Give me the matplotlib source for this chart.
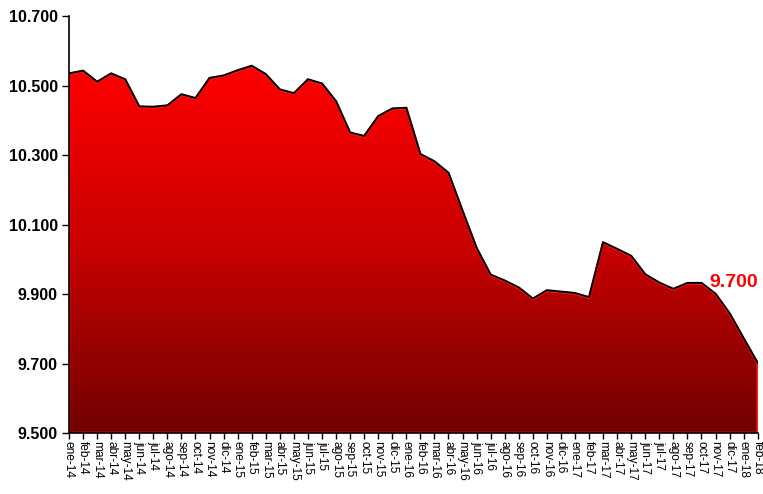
import numpy as np
import matplotlib
matplotlib.use('Agg')
import matplotlib.pyplot as plt
from matplotlib.colors import LinearSegmentedColormap
from matplotlib.patches import Polygon

# monthly series, ene-14 .. feb-18
months = ['ene', 'feb', 'mar', 'abr', 'may', 'jun', 'jul', 'ago', 'sep', 'oct', 'nov', 'dic']
labels = [m + '-' + y for y in ['14', '15', '16', '17'] for m in months] + ['ene-18', 'feb-18']
values = [10.533, 10.541, 10.509, 10.533, 10.516, 10.438, 10.437, 10.441, 10.473, 10.462,
          10.520, 10.527, 10.542, 10.555, 10.531, 10.487, 10.476, 10.516, 10.504, 10.453,
          10.363, 10.353, 10.410, 10.432, 10.434, 10.301, 10.280, 10.247, 10.138, 10.031,
          9.954, 9.937, 9.917, 9.885, 9.909, 9.905, 9.901, 9.889, 10.047, 10.028,
          10.008, 9.955, 9.931, 9.913, 9.930, 9.930, 9.899, 9.843, 9.771, 9.700]
yticks = [9.5, 9.7, 9.9, 10.1, 10.3, 10.5, 10.7]
ytick_labels = ['9.500', '9.700', '9.900', '10.100', '10.300', '10.500', '10.700']
last_label = '9.700'

plt.rcParams['font.family'] = ['Liberation Sans', 'DejaVu Sans']

fig = plt.figure(figsize=(7.63, 4.94), dpi=100)
ax = fig.add_axes([69 / 763, 1 - 433 / 494, (757.7 - 69) / 763, (433 - 16) / 494])

x = np.arange(len(values))
ymin, ymax = 9.5, 10.7

# gradient fill clipped to the area polygon
cmap = LinearSegmentedColormap.from_list('rojo', ['#700000', '#c80000', '#ff0000'])
grad = np.linspace(0, 1, 256).reshape(-1, 1)
top = max(values)
img = ax.imshow(grad, cmap=cmap, aspect='auto', origin='lower',
                extent=[0, len(values) - 1, ymin, top], zorder=1)
verts = [(0, ymin)] + list(zip(x, values)) + [(len(values) - 1, ymin)]
poly = Polygon(verts, closed=True, facecolor='none', edgecolor='#ff1a1a', lw=1.8, zorder=2)
ax.add_patch(poly)
img.set_clip_path(poly)

ax.plot(x, np.array(values) + 0.002, color='black', lw=1.4, zorder=3)

ax.text(len(values) - 2.7, 9.934, last_label, color='#ff0000', fontsize=14,
        fontweight='bold', ha='center', va='center', zorder=4)

ax.set_xlim(0, len(values) - 1)
ax.set_ylim(ymin, ymax)
ax.set_yticks(yticks)
ax.set_yticklabels(ytick_labels, fontsize=11.5, fontweight='bold')
ax.set_xticks(x)
ax.set_xticklabels(labels, rotation=-90, fontsize=8.6)
ax.tick_params(axis='y', direction='out', length=5, width=1, pad=3)
ax.tick_params(axis='x', direction='out', length=4, width=1, pad=2)
for s in ['top', 'right']:
    ax.spines[s].set_visible(False)
ax.spines['left'].set_linewidth(1.2)
ax.spines['bottom'].set_linewidth(1.2)

fig.savefig('out.png', dpi=100)
